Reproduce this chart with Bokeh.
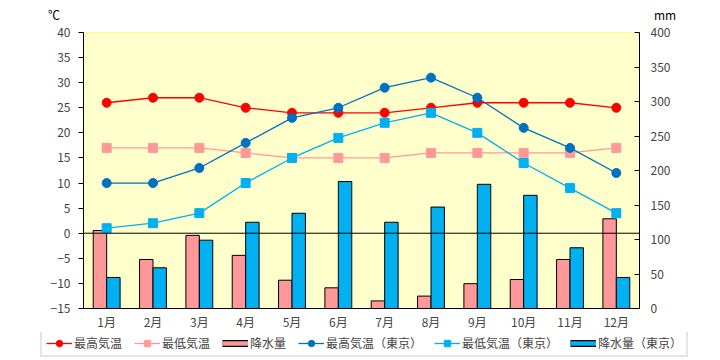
from bokeh.plotting import figure
from bokeh.layouts import column
from bokeh.models import (FactorRange, Range1d, LinearAxis, FixedTicker, Span,
                          Legend, LegendItem, ColumnDataSource, Div)
from bokeh.transform import dodge
from bokeh.embed import file_html
from bokeh.resources import INLINE

months = ["1月", "2月", "3月", "4月", "5月", "6月", "7月", "8月", "9月", "10月", "11月", "12月"]
max_temp = [26, 27, 27, 25, 24, 24, 24, 25, 26, 26, 26, 25]
min_temp = [17, 17, 17, 16, 15, 15, 15, 16, 16, 16, 16, 17]
precip = [113, 71, 106, 77, 41, 30, 11, 18, 36, 42, 71, 130]
tokyo_max = [10, 10, 13, 18, 23, 25, 29, 31, 27, 21, 17, 12]
tokyo_min = [1, 2, 4, 10, 15, 19, 22, 24, 20, 14, 9, 4]
tokyo_precip = [45, 59, 99, 125, 138, 184, 125, 147, 180, 164, 88, 45]
left_ticks = [-15, -10, -5, 0, 5, 10, 15, 20, 25, 30, 35, 40]
right_ticks = [0, 50, 100, 150, 200, 250, 300, 350, 400]
left_unit = "℃"
right_unit = "mm"
labels = ["最高気温", "最低気温", "降水量", "最高気温（東京）", "最低気温（東京）", "降水量（東京）"]

FONT = "Noto Sans CJK JP"
C_MAX, C_MIN, C_PR = "#FF0000", "#FF9999", "#FF9999"
C_TMAX, C_TMIN, C_TPR = "#0070C0", "#00B0F0", "#00B0F0"

src = ColumnDataSource(dict(m=months, mx=max_temp, mn=min_temp, pr=precip,
                            tmx=tokyo_max, tmn=tokyo_min, tpr=tokyo_precip))

# ---------------- main chart ----------------
p = figure(width=720, height=308, x_range=FactorRange(*months),
           y_range=Range1d(-15, 40), output_backend="svg", toolbar_location=None,
           min_border_left=83, min_border_right=81, min_border_top=8, min_border_bottom=22)
p.background_fill_color = "#FFFFCC"
p.border_fill_color = "white"
p.outline_line_color = "#FFFF88"
p.xgrid.visible = False
p.ygrid.visible = False
p.x_range.range_padding = 0
p.extra_y_ranges = {"mm": Range1d(0, 400)}

yax = p.yaxis[0]
yax.ticker = FixedTicker(ticks=left_ticks)
yax.major_tick_in = 0
yax.major_tick_out = 5
yax.minor_tick_line_color = None
yax.major_label_text_font = FONT
yax.major_label_text_font_size = "12px"
yax.major_label_standoff = 8
yax.axis_line_color = "black"

rax = LinearAxis(y_range_name="mm", ticker=FixedTicker(ticks=right_ticks))
rax.major_tick_in = 5
rax.major_tick_out = 0
rax.minor_tick_line_color = None
rax.major_label_text_font = FONT
rax.major_label_text_font_size = "12px"
rax.major_label_standoff = 11
rax.axis_line_color = "black"
p.add_layout(rax, "right")

xax = p.xaxis[0]
xax.major_tick_line_color = None
xax.minor_tick_line_color = None
xax.major_tick_in = 0
xax.major_tick_out = 0
xax.major_label_text_font = FONT
xax.major_label_text_font_size = "12px"
xax.major_label_standoff = 4
xax.axis_line_color = "black"

p.vbar(x=dodge("m", -0.145, range=p.x_range), top="pr", bottom=0, width=0.29,
       source=src, y_range_name="mm", fill_color=C_PR, line_color="black", line_width=1)
p.vbar(x=dodge("m", 0.145, range=p.x_range), top="tpr", bottom=0, width=0.29,
       source=src, y_range_name="mm", fill_color=C_TPR, line_color="black", line_width=1)

p.add_layout(Span(location=0, dimension="width", line_color="black", line_width=1))

p.line("m", "mx", source=src, line_color=C_MAX, line_width=1.3)
p.scatter("m", "mx", source=src, marker="circle", size=9, fill_color=C_MAX, line_color=C_MAX)
p.line("m", "mn", source=src, line_color=C_MIN, line_width=1.3)
p.scatter("m", "mn", source=src, marker="square", size=9, fill_color=C_MIN, line_color=C_MIN)
p.line("m", "tmx", source=src, line_color=C_TMAX, line_width=1.3)
p.scatter("m", "tmx", source=src, marker="circle", size=9, fill_color=C_TMAX, line_color=C_TMAX)
p.line("m", "tmn", source=src, line_color=C_TMIN, line_width=1.3)
p.scatter("m", "tmn", source=src, marker="square", size=9, fill_color=C_TMIN, line_color=C_TMIN)

# ---------------- legend strip ----------------
lg = figure(width=720, height=28, frame_width=720, frame_height=28,
            output_backend="svg", toolbar_location=None,
            x_axis_location=None, y_axis_location=None, min_border=0,
            min_border_left=0, min_border_right=0, min_border_top=0, min_border_bottom=0,
            x_range=Range1d(0, 1), y_range=Range1d(0, 1))
if "frame_align" in lg.properties():
    lg.frame_align = False
lg.outline_line_color = None
lg.xgrid.visible = False
lg.ygrid.visible = False
lg.background_fill_color = "white"
lg.border_fill_color = "white"

OFF = [-5, -4]  # off-screen sample data for legend-only glyphs

def line_item(color, marker):
    r1 = lg.line(x=OFF, y=OFF, line_color=color, line_width=1.3)
    r2 = lg.scatter(x=OFF, y=OFF, marker=marker, size=8, fill_color=color, line_color=color)
    return [r1, r2]

def bar_item(color):
    r1 = lg.line(x=OFF, y=OFF, line_color="black", line_width=7)
    r2 = lg.line(x=OFF, y=OFF, line_color=color, line_width=4.5)
    return [r1, r2]

items = [
    LegendItem(label=labels[0], renderers=line_item(C_MAX, "circle")),
    LegendItem(label=labels[1], renderers=line_item(C_MIN, "square")),
    LegendItem(label=labels[2], renderers=bar_item(C_PR)),
    LegendItem(label=labels[3], renderers=line_item(C_TMAX, "circle")),
    LegendItem(label=labels[4], renderers=line_item(C_TMIN, "square")),
    LegendItem(label=labels[5], renderers=bar_item(C_TPR)),
]
legend = Legend(items=items, orientation="horizontal", location=(40, 3))
legend.label_text_font = FONT
legend.label_text_font_size = "12px"
legend.glyph_width = 26
legend.glyph_height = 16
legend.label_standoff = 2
legend.spacing = 12
legend.padding = 4
legend.margin = 0
legend.label_height = 16
legend.border_line_color = "#CCCCCC"
legend.border_line_width = 2
legend.background_fill_alpha = 1
lg.add_layout(legend, "center")

header = Div(text=(
    f'<div style="position:relative;width:720px;height:24px;font-family:\'{FONT}\';font-size:12px;color:#000;">'
    f'<span style="position:absolute;left:48px;top:6px;">{left_unit}</span>'
    f'<span style="position:absolute;left:654px;top:6px;">{right_unit}</span></div>'),
    width=720, height=24, margin=0)

layout = column(header, p, lg, spacing=0)
open("out.html", "w").write(file_html(layout, INLINE))
